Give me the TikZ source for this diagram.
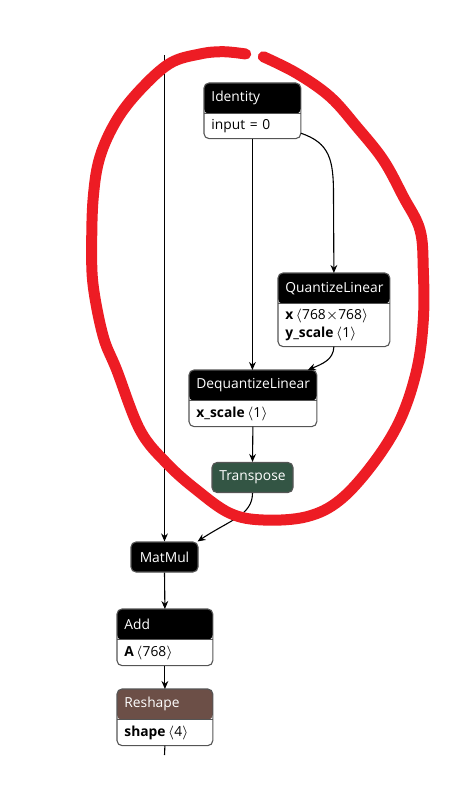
\documentclass[tikz,border=0pt]{standalone}
\usepackage{fontspec}
\setmainfont{Open Sans}
\usepackage{tikz}
\usetikzlibrary{positioning,backgrounds,arrows.meta}
\definecolor{trgreen}{RGB}{51,85,68}
\definecolor{shbrown}{RGB}{108,79,71}
\definecolor{ringred}{RGB}{237,28,36}
\definecolor{edgegray}{RGB}{85,85,85}

\begin{document}
\begin{tikzpicture}[x=0.5pt, y=-0.5pt,
    every node/.style={font=\fontsize{6.9}{9}\selectfont},
    head/.style={inner xsep=3.5pt, inner ysep=0pt, minimum height=15pt, text=white, align=left, anchor=north west},
    body/.style={inner xsep=3.5pt, inner ysep=0pt, minimum height=12pt, align=left, anchor=north west},
    frame/.style={draw=edgegray, line width=0.55pt, rounded corners=2.5pt},
    single/.style={frame, minimum height=15pt, inner xsep=3.5pt, inner ysep=0pt, text=white},
    link/.style={line width=0.55pt, -{Stealth[length=4pt,width=3.4pt]}}]
    \useasboundingbox (0,0) rectangle (458,808);

    % operator boxes
    \node[head, text width=41pt] (ident) at (204,83) {Identity};
    \node[body, text width=41pt] (identb) at (ident.south west) {input = 0};
    \node[head, text width=48.5pt] (quant) at (278,273) {QuantizeLinear};
    \node[body, text width=48.5pt, minimum height=21pt] (quantb) at (quant.south west)
        {\textbf{x}\,$\langle$768$\times$768$\rangle$\\\textbf{y\_scale}\,$\langle$1$\rangle$};
    \node[head, text width=56.5pt] (dequant) at (189,370) {DequantizeLinear};
    \node[body, text width=56.5pt, minimum height=12.5pt] (dequantb) at (dequant.south west)
        {\textbf{x\_scale}\,$\langle$1$\rangle$};
    \node[single, fill=trgreen, minimum width=40.5pt] (trans) at (252.5,477.5) {Transpose};
    \node[single, fill=black, minimum width=33.5pt] (matmul) at (164.5,557) {MatMul};
    \node[head, text width=40.5pt] (add) at (117,609) {Add};
    \node[body, text width=40.5pt, minimum height=12.5pt] (addb) at (add.south west)
        {\textbf{A}\,$\langle$768$\rangle$};
    \node[head, text width=40.5pt] (resh) at (117,689) {Reshape};
    \node[body, text width=40.5pt, minimum height=12.5pt] (reshb) at (resh.south west)
        {\textbf{shape}\,$\langle$4$\rangle$};

    \begin{scope}[on background layer]
        \foreach \h/\b/\c in {ident/identb/black, quant/quantb/black, dequant/dequantb/black,
                              add/addb/black, resh/reshb/shbrown}
        \path[frame, fill=white, path picture={
                \fill[\c] (\h.north west) rectangle (\h.south east);
                \draw[edgegray, line width=0.4pt] (\h.south west) -- (\h.south east);}]
            (\h.north west) rectangle (\b.south east);
    \end{scope}

    % connectors
    \coordinate (graphin) at (164.5,55);
    \coordinate (graphout) at (164.5,755);
    \draw[link] (graphin) -- (matmul.north);
    \draw[link] (identb.south) -- (identb.south |- dequant.north);
    \draw[link] ([yshift=-3.5pt]identb.east) .. controls (330,143) and (333.5,160) .. (333.5,195) -- (quant.north);
    \draw[link] (quantb.south) .. controls (333.5,360) and (322,364) .. ([xshift=-4.5pt]dequant.north east);
    \draw[link] (dequantb.south) -- (trans.north);
    \draw[link] (trans.south) .. controls (252.5,515) and (230,520) .. ([xshift=-0.5pt]matmul.north east);
    \draw[link] (matmul.south) -- (add.north);
    \draw[link] (addb.south) -- (resh.north);
    \draw[line width=0.55pt] (reshb.south) -- (graphout);

    % hand drawn ring
    \draw[ringred, line width=5.5pt, line cap=round, line join=round]
        plot[smooth, tension=0.6] coordinates {(245.7,54) (223,51.7) (200,54) (170,63.3) (140,90)
        (116.7,120) (100,156.7) (93.3,196.7) (91.7,246.7) (93.3,286.7) (103.3,336.7) (116.7,370)
        (140,430) (166.7,463.3) (196.7,490) (230,513.3) (263.3,520) (306.7,516.7) (340,500)
        (373.3,463.3) (400,420) (416.7,370) (423.3,320) (423.3,270) (420,230) (403.3,196.7)
        (383.3,160) (356.7,126.7) (330,96.7) (296.7,73.3) (263.3,56.7)};
\end{tikzpicture}
\end{document}
